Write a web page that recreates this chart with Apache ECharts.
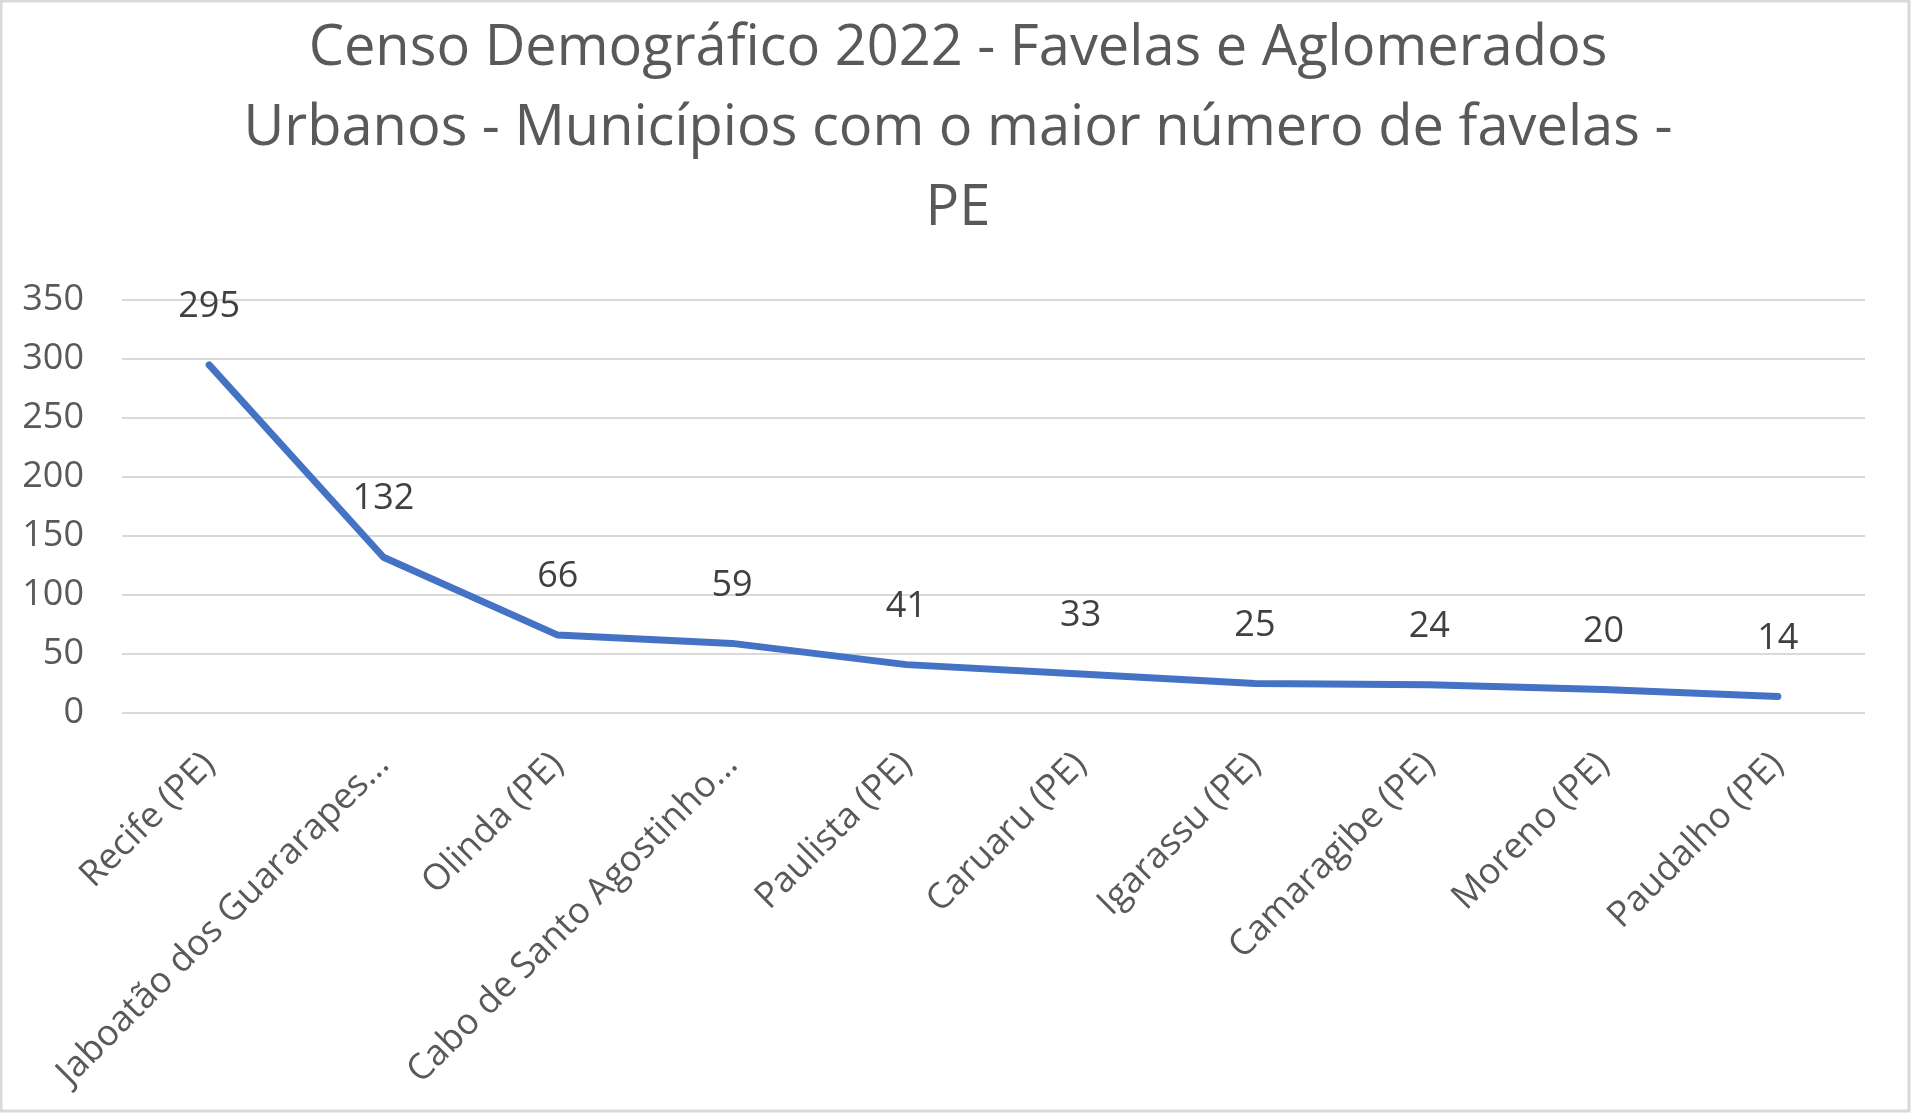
<!DOCTYPE html>
<html><head><meta charset="utf-8">
<script src="https://cdn.jsdelivr.net/npm/echarts@6/dist/echarts.min.js"></script>
<style>html,body{margin:0;padding:0;background:#fff}#c{width:1920px;height:1120px}</style>
</head><body><div id="c"></div>
<script>
const titleText = 'Censo Demográfico 2022 - Favelas e Aglomerados\nUrbanos - Municípios com o maior número de favelas -\nPE';
const categories = ['Recife (PE)', 'Jaboatão dos Guararapes (PE)', 'Olinda (PE)', 'Cabo de Santo Agostinho (PE)', 'Paulista (PE)', 'Caruaru (PE)', 'Igarassu (PE)', 'Camaragibe (PE)', 'Moreno (PE)', 'Paudalho (PE)'];
const values = [295, 132, 66, 59, 41, 33, 25, 24, 20, 14];
const yTicks = [0, 50, 100, 150, 200, 250, 300, 350];

const chart = echarts.init(document.getElementById('c'));
const FONT = 'Open Sans';
chart.setOption({
  backgroundColor: '#fff',
  animation: false,
  graphic: [{type: 'rect', shape: {x: 1, y: 1, width: 1908, height: 1110}, style: {fill: 'none', stroke: '#d9d9d9', lineWidth: 3}}],
  title: {
    text: titleText, left: 953, top: 4, textAlign: 'center',
    textStyle: {fontFamily: FONT, fontSize: 56, fontWeight: 'normal', color: '#595959', lineHeight: 80}
  },
  grid: {left: 122, right: 55, top: 300, bottom: 407, containLabel: false},
  xAxis: {
    type: 'category', data: categories, boundaryGap: true,
    axisLine: {show: false}, axisTick: {show: false},
    axisLabel: {
      rotate: 45, interval: 0, margin: 46, fontFamily: FONT, fontSize: 36, color: '#595959',
      formatter: v => v.length > 24 ? v.slice(0, 23) + '...' : v
    }
  },
  yAxis: {
    type: 'value', min: yTicks[0], max: yTicks[yTicks.length - 1], interval: 50,
    axisLine: {show: false}, axisTick: {show: false},
    axisLabel: {margin: 38, fontFamily: FONT, fontSize: 36, color: '#595959'},
    splitLine: {lineStyle: {color: '#d9d9d9', width: 2}}
  },
  series: [{
    type: 'line', data: values, symbol: 'circle', symbolSize: 0.1, showSymbol: true, smooth: false,
    itemStyle: {color: '#4472c4'},
    lineStyle: {color: '#4472c4', width: 7, cap: 'round', join: 'round'},
    label: {show: true, position: 'top', distance: 40, fontFamily: FONT, fontSize: 36, color: '#404040'}
  }]
});
</script></body></html>
